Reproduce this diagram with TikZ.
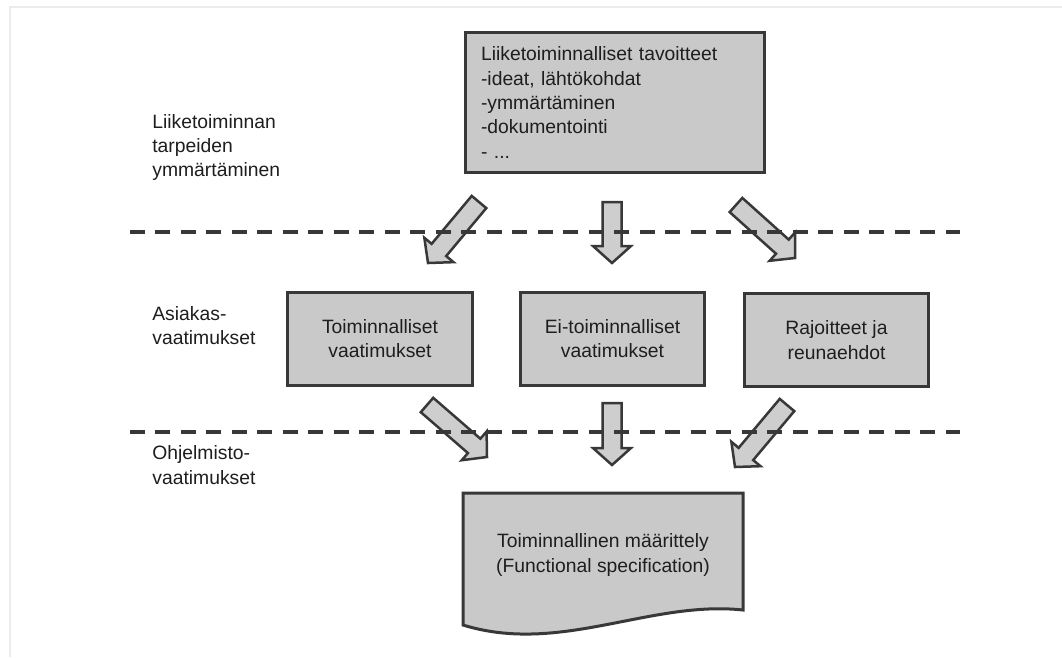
\documentclass[tikz,border=0pt]{standalone}
\usepackage{fontspec}
\setmainfont{Liberation Sans}
\usetikzlibrary{calc}
\definecolor{ReqInk}{HTML}{1E1E1E}
\definecolor{ReqEdge}{HTML}{383838}
\definecolor{ReqFill}{HTML}{C9C9C9}
\definecolor{ReqArrowFill}{HTML}{CECECE}
\definecolor{ReqFrame}{HTML}{ECECEC}
\tikzset{
  req/text/.style={
    text=ReqInk, inner sep=0pt, align=center,
    font={\fontsize{11}{13.9}\selectfont}
  },
  req/label/.style={req/text, align=left, anchor=west},
  req/box/.style={
    req/text, draw=ReqEdge, line width=.06cm, fill=ReqFill,
    minimum width=3.7cm, minimum height=1.86cm
  },
  req/doc/.style={draw=ReqEdge, line width=.06cm, fill=ReqFill},
  req/arrow/.style={draw=ReqEdge, line width=.05cm, fill=ReqArrowFill},
  req/split/.style={
    draw=ReqEdge, line width=.08cm, dash pattern=on .3cm off .21cm
  }
}
% broad block arrow from tail #1 to tip #2
\newcommand\reqarrow[2]{%
  \coordinate (ra-base) at ($(#2)!.34cm!(#1)$);
  \filldraw[req/arrow] ($(#1)!.19cm!90:(#2)$) -- ($(ra-base)!.19cm!90:(#2)$)
    -- ($(ra-base)!.38cm!90:(#2)$) -- (#2)
    -- ($(ra-base)!.38cm!-90:(#2)$) -- ($(ra-base)!.19cm!-90:(#2)$)
    -- ($(#1)!.19cm!-90:(#2)$) -- cycle;}

\begin{document}
\begin{tikzpicture}[x=.02cm,y=-.02cm]
  \fill[white] (0,0) rectangle (1062,657);
  \useasboundingbox (0,0) rectangle (1062,657);
  \draw[ReqFrame,line width=.04cm] (10,657) -- (10,7) -- (1062,7);

  % phase labels
  \node[req/label] (business) at (152,147.5)
    {Liiketoiminnan\\tarpeiden\\ymmärtäminen};
  \node[req/label] (customer) at (152,325.5) {Asiakas-\\vaatimukset};
  \node[req/label] (software) at (152,465) {Ohjelmisto-\\vaatimukset};

  % boxes
  \node[req/box,align=left,minimum width=6cm,minimum height=2.82cm,
    text width=5.36cm] (goals) at (615,102.5)
    {Liiketoiminnalliset tavoitteet\\-ideat, lähtökohdat\\-ymmärtäminen\\-dokumentointi\\- ...};
  \node[req/box] (functional) at (380,338.5) {Toiminnalliset\\vaatimukset};
  \node[req/box] (nonfunctional) at (612.5,338.5) {Ei-toiminnalliset\\vaatimukset};
  \node[req/box] (constraints) at (836.5,340) {Rajoitteet ja\\reunaehdot};

  \filldraw[req/doc] (463,493) -- (743,493) -- (743,610)
    .. controls (650,600) and (560,655) .. (463,625) -- cycle;
  \node[req/text] (spec) at (603,555)
    {Toiminnallinen määrittely\\(Functional specification)};

  % block arrows
  \coordinate (a1s) at (479,202);  \coordinate (a1t) at (428,263);
  \coordinate (a2s) at (612,202);  \coordinate (a2t) at (612,263);
  \coordinate (a3s) at (736,205);  \coordinate (a3t) at (795,258);
  \coordinate (a4s) at (427,405);  \coordinate (a4t) at (487,457);
  \coordinate (a5s) at (612,403);  \coordinate (a5t) at (612,465);
  \coordinate (a6s) at (787,405);  \coordinate (a6t) at (735,467);
  \foreach \i in {1,...,6}
    \reqarrow{a\i s}{a\i t};

  % phase borders
  \draw[req/split] (130,232) -- (960,232);
  \draw[req/split] (130,432) -- (960,432);
\end{tikzpicture}
\end{document}
